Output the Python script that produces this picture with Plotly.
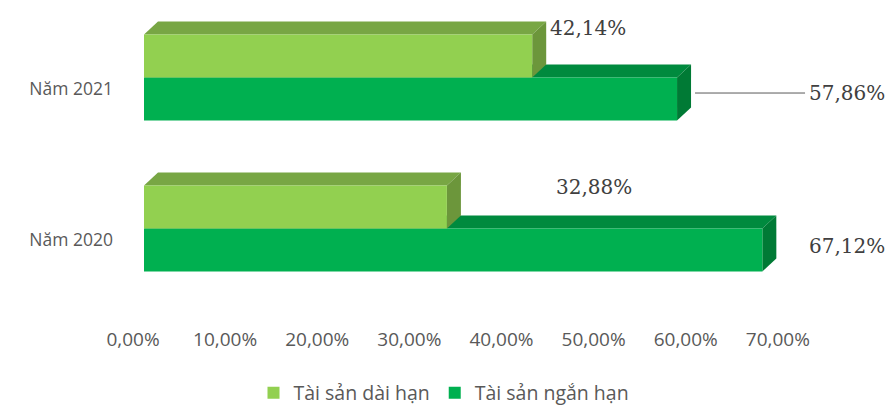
import plotly.graph_objects as go

# ---------------- data ----------------
categories = ["Năm 2020", "Năm 2021"]
dai_han = [32.88, 42.14]      # Tài sản dài hạn (%)
ngan_han = [67.12, 57.86]     # Tài sản ngắn hạn (%)
series_names = ["Tài sản dài hạn", "Tài sản ngắn hạn"]
tick_vals = [0, 10, 20, 30, 40, 50, 60, 70]
tick_text = ["0,00%", "10,00%", "20,00%", "30,00%", "40,00%", "50,00%", "60,00%", "70,00%"]

def fmt(v):
    return f"{v:.2f}".replace(".", ",") + "%"

# ---------------- geometry / style ----------------
W, H = 893, 405
ML, MR, MT, MB = 144, 12, 2, 101
XMAX = 80
plot_w = W - ML - MR
plot_h = H - MT - MB
px_per_x = plot_w / XMAX
px_per_y = plot_h / 2.0
DX = 14 / px_per_x          # depth in data units
DY = 13 / px_per_y
BW = 0.285                  # bar thickness (category units)

LIGHT = "#92D050"; LIGHT_TOP = "#78A644"; LIGHT_SIDE = "#6C963B"
DARK = "#00B050"; DARK_TOP = "#008A3E"; DARK_SIDE = "#007A35"
TXT = "#595959"

ypos = list(range(len(categories)))

fig = go.Figure()
fig.add_trace(go.Bar(
    x=ngan_han, y=ypos, orientation="h", name=series_names[1],
    marker=dict(color=DARK, line=dict(width=0)), offset=-BW, width=BW,
    legendrank=2, hoverinfo="skip"))
fig.add_trace(go.Bar(
    x=dai_han, y=ypos, orientation="h", name=series_names[0],
    marker=dict(color=LIGHT, line=dict(width=0)), offset=0, width=BW,
    legendrank=1, hoverinfo="skip"))

shapes = []
def faces(v, b, t, ctop, cside):
    top = f"M 0,{t} L {v},{t} L {v+DX},{t+DY} L {DX},{t+DY} Z"
    side = f"M {v},{b} L {v},{t} L {v+DX},{t+DY} L {v+DX},{b+DY} Z"
    return [
        dict(type="path", path=top, xref="x", yref="y", fillcolor=ctop,
             line=dict(width=0), layer="below"),
        dict(type="path", path=side, xref="x", yref="y", fillcolor=cside,
             line=dict(width=0), layer="below"),
    ]

for i, c in enumerate(ypos):
    shapes += faces(ngan_han[i], c - BW, c, DARK_TOP, DARK_SIDE)
    shapes += faces(dai_han[i], c, c + BW, LIGHT_TOP, LIGHT_SIDE)

# leader line for the 2021 short-term label
shapes.append(dict(type="line", xref="x", yref="y",
                   xsizemode="pixel", xanchor=ngan_han[1], x0=18, x1=128,
                   ysizemode="pixel", yanchor=ypos[1] - BW / 2, y0=6, y1=6,
                   line=dict(color="#595959", width=1)))

annotations = []
label_font = dict(family="DejaVu Serif", size=20, color="#404040")
# (value, y-center, xshift, yshift)
lab = [
    (dai_han[1], ypos[1] + BW / 2, 16, 28),
    (ngan_han[1], ypos[1] - BW / 2, 130, 6),
    (dai_han[0], ypos[0] + BW / 2, 107, 20),
    (ngan_han[0], ypos[0] - BW / 2, 45, 4),
]
for v, yc, xs, ys in lab:
    annotations.append(dict(x=v, y=yc, xref="x", yref="y", text=fmt(v),
                            showarrow=False, xanchor="left", yanchor="middle",
                            xshift=xs, yshift=ys, font=label_font))

leg_x = (444 - ML) / plot_w
leg_y = -(393 - (MT + plot_h)) / plot_h

fig.update_layout(
    width=W, height=H,
    margin=dict(l=ML, r=MR, t=MT, b=MB, autoexpand=False),
    paper_bgcolor="white", plot_bgcolor="white",
    barmode="overlay",
    shapes=shapes, annotations=annotations,
    font=dict(family="Open Sans", size=18, color=TXT),
    legend=dict(orientation="h", x=leg_x, xanchor="center", y=leg_y, yanchor="middle",
                font=dict(family="Open Sans", size=19.5, color=TXT),
                itemwidth=30, traceorder="normal", bgcolor="rgba(0,0,0,0)"),
    showlegend=True,
)
fig.update_xaxes(range=[0, XMAX], tickvals=tick_vals, ticktext=tick_text,
                 showgrid=False, zeroline=False, showline=False, automargin=False,
                 ticks="", ticklabelstandoff=22, ticklabelshift=-11,
                 tickfont=dict(family="Open Sans", size=19, color=TXT))
fig.update_yaxes(range=[-0.5, 1.5], tickvals=ypos, ticktext=categories,
                 showgrid=False, zeroline=False, showline=False, automargin=False,
                 ticks="", ticklabelstandoff=30, ticklabelshift=11,
                 tickfont=dict(family="Open Sans", size=17.5, color=TXT))

fig.write_html("out.html", config={"displayModeBar": False},
               post_script="document.body.style.margin='0';document.body.style.overflow='hidden';")
